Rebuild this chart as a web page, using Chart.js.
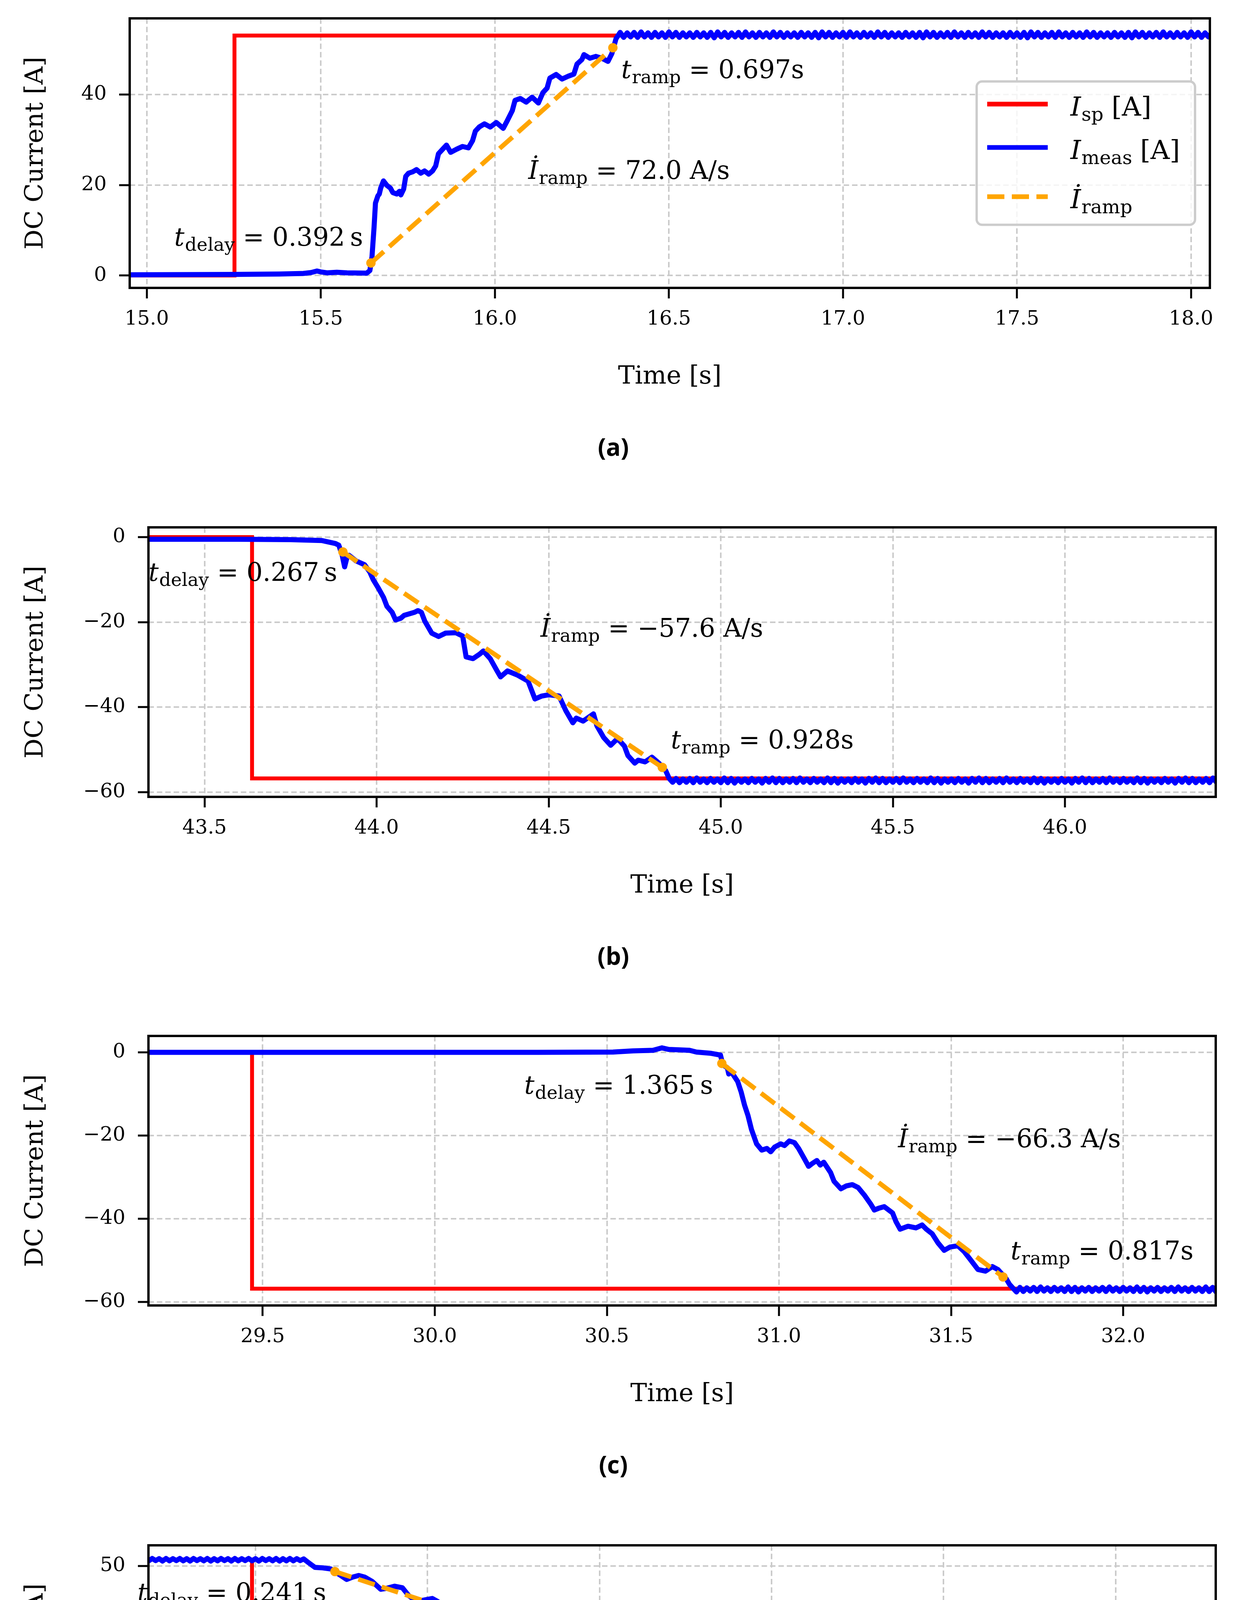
<!DOCTYPE html>
<html><head><meta charset="utf-8">
<script src="https://cdn.jsdelivr.net/npm/chart.js@4.4.1/dist/chart.umd.min.js"></script>
<style>
html,body{margin:0;padding:0;background:#fff;}
#wrap{position:relative;width:3169px;height:5124px;overflow:hidden;}
canvas{position:absolute;left:0;}
</style></head><body><div id="wrap">
<canvas id="ca"></canvas><canvas id="cb"></canvas><canvas id="cc"></canvas><canvas id="cd"></canvas>
</div>
<script>
// ================= DATA =================
// ---- panel (a) ----
const spA = [[14.95,0],[15.252,0],[15.252,53],[18.06,53]];
const measA = [[14.95,0.15],[15.10,0.2],[15.25,0.25],[15.38,0.33],[15.45,0.46],[15.472,0.66],[15.489,1.0],[15.50,0.8],[15.518,0.6],[15.546,0.73],[15.575,0.6],[15.632,0.53],[15.641,1.1],[15.647,4.1],[15.653,10.7],[15.657,16],[15.664,17.6],[15.668,18],[15.672,19.3],[15.68,20.9],[15.69,19.9],[15.70,19.3],[15.707,18.3],[15.718,18],[15.726,18.6],[15.73,17.8],[15.738,19.1],[15.744,21.9],[15.752,22.6],[15.764,22.9],[15.775,23.4],[15.787,22.6],[15.798,23.1],[15.81,22.4],[15.821,23.1],[15.83,24.2],[15.838,26.9],[15.85,27.9],[15.861,28.8],[15.873,27.2],[15.89,27.9],[15.907,28.5],[15.924,28.2],[15.936,29.8],[15.944,31.9],[15.955,32.8],[15.97,33.5],[15.987,32.8],[16.004,33.8],[16.024,32.5],[16.035,34.1],[16.05,36.4],[16.058,38.7],[16.073,39.1],[16.09,38.3],[16.107,39.4],[16.125,38.1],[16.138,40.4],[16.15,41.4],[16.158,43.6],[16.176,44.4],[16.193,43.4],[16.21,44.0],[16.227,44.5],[16.236,46.7],[16.25,47.7],[16.256,48.8],[16.273,48.0],[16.29,48.4],[16.307,48.0],[16.325,47.3],[16.336,49.0],[16.348,52.3],
[16.36,53.7],[16.37,52.6],[16.38,53.6],[16.39,52.7],[16.40,53.7],[16.41,52.6],[16.42,53.8],[16.43,52.7],[16.44,53.6],[16.45,52.6],
[16.46,53.7],[16.47,52.7],[16.48,53.6],[16.49,52.6],[16.50,53.8],[16.51,52.7],[16.52,53.7],[16.53,52.6],[16.54,53.6],[16.55,52.7],
[16.56,53.6],[16.57,52.6],[16.58,53.7],[16.59,52.7],[16.60,53.6],[16.61,52.6],[16.62,53.7],[16.63,52.5],[16.64,53.8],[16.65,52.7],
[16.66,53.7],[16.67,52.6],[16.68,53.6],[16.69,52.7],[16.70,53.7],[16.71,52.6],[16.72,53.8],[16.73,52.7],[16.74,53.6],[16.75,52.6],
[16.76,53.7],[16.77,52.7],[16.78,53.6],[16.79,52.6],[16.80,53.8],[16.81,52.7],[16.82,53.7],[16.83,52.6],[16.84,53.6],[16.85,52.7],
[16.86,53.6],[16.87,52.6],[16.88,53.7],[16.89,52.7],[16.90,53.6],[16.91,52.6],[16.92,53.7],[16.93,52.5],[16.94,53.8],[16.95,52.7],
[16.96,53.7],[16.97,52.6],[16.98,53.6],[16.99,52.7],[17.00,53.7],[17.01,52.6],[17.02,53.8],[17.03,52.7],[17.04,53.6],[17.05,52.6],
[17.06,53.7],[17.07,52.7],[17.08,53.6],[17.09,52.6],[17.10,53.8],[17.11,52.7],[17.12,53.7],[17.13,52.6],[17.14,53.6],[17.15,52.7],
[17.16,53.6],[17.17,52.6],[17.18,53.7],[17.19,52.7],[17.20,53.6],[17.21,52.6],[17.22,53.7],[17.23,52.5],[17.24,53.8],[17.25,52.7],
[17.26,53.7],[17.27,52.6],[17.28,53.6],[17.29,52.7],[17.30,53.7],[17.31,52.6],[17.32,53.8],[17.33,52.7],[17.34,53.6],[17.35,52.6],
[17.36,53.7],[17.37,52.7],[17.38,53.6],[17.39,52.6],[17.40,53.8],[17.41,52.7],[17.42,53.7],[17.43,52.6],[17.44,53.6],[17.45,52.7],
[17.46,53.6],[17.47,52.6],[17.48,53.7],[17.49,52.7],[17.50,53.6],[17.51,52.6],[17.52,53.7],[17.53,52.5],[17.54,53.8],[17.55,52.7],
[17.56,53.7],[17.57,52.6],[17.58,53.6],[17.59,52.7],[17.60,53.7],[17.61,52.6],[17.62,53.8],[17.63,52.7],[17.64,53.6],[17.65,52.6],
[17.66,53.7],[17.67,52.7],[17.68,53.6],[17.69,52.6],[17.70,53.8],[17.71,52.7],[17.72,53.7],[17.73,52.6],[17.74,53.6],[17.75,52.7],
[17.76,53.6],[17.77,52.6],[17.78,53.7],[17.79,52.7],[17.80,53.6],[17.81,52.6],[17.82,53.7],[17.83,52.5],[17.84,53.8],[17.85,52.7],
[17.86,53.7],[17.87,52.6],[17.88,53.6],[17.89,52.7],[17.90,53.7],[17.91,52.6],[17.92,53.8],[17.93,52.7],[17.94,53.6],[17.95,52.6],
[17.96,53.7],[17.97,52.7],[17.98,53.6],[17.99,52.6],[18.00,53.8],[18.01,52.7],[18.02,53.7],[18.03,52.6],[18.04,53.6],[18.05,52.7],
[18.06,53.6]];
const rampA = [[15.644,2.77],[16.339,50.3]];
const xTicksA = [15.0,15.5,16.0,16.5,17.0,17.5,18.0];
const xLabelsA = ['15.0','15.5','16.0','16.5','17.0','17.5','18.0'];
const yTicksA = [0,20,40];
const yLabelsA = ['0','20','40'];
const xRangeA = [14.951,18.054], yRangeA = [-2.73,56.8];
const annA = [[15.079,6.6,'t','delay','0.392\u2009s'],[16.096,21.3,'\u0130','ramp','72.0 A/s'],[16.363,43.6,'t','ramp','0.697s']];

// ---- panel (b) ----
const spB = [[43.33,0],[43.638,0],[43.638,-56.8],[46.46,-56.8]];
const measB = [[43.33,-0.5],[43.60,-0.5],[43.75,-0.6],[43.84,-0.8],[43.88,-1.5],[43.89,-1.9],[43.90,-4.3],[43.907,-7.0],[43.914,-4.7],[43.92,-4.3],[43.94,-5.6],[43.965,-6.5],[43.98,-8.2],[43.99,-10],[44.005,-12],[44.02,-14.2],[44.03,-16.3],[44.045,-17.7],[44.055,-19.5],[44.07,-19.1],[44.08,-18.4],[44.11,-17.7],[44.12,-17.3],[44.13,-17.7],[44.14,-19.8],[44.16,-22.6],[44.18,-23.4],[44.20,-22.6],[44.23,-22.5],[44.25,-23.3],[44.26,-28.2],[44.28,-28.6],[44.30,-27.5],[44.31,-26.8],[44.33,-28.6],[44.35,-31.5],[44.36,-32.9],[44.38,-31.5],[44.41,-32.5],[44.44,-33.9],[44.46,-38.1],[44.48,-37.4],[44.50,-37.1],[44.53,-37.4],[44.55,-40.9],[44.57,-43.7],[44.58,-42.6],[44.60,-43.3],[44.63,-41.6],[44.64,-44.4],[44.66,-47.2],[44.68,-49.0],[44.70,-47.4],[44.72,-49.2],[44.73,-51.4],[44.75,-53.2],[44.76,-52.5],[44.78,-52.9],[44.80,-51.8],[44.82,-53.2],[44.84,-55.0],[44.85,-56.8],[44.86,-57.7],
[44.87,-56.8],[44.88,-57.8],[44.89,-56.9],[44.90,-57.7],[44.91,-56.8],[44.92,-57.8],[44.93,-56.7],[44.94,-57.7],[44.95,-56.9],[44.96,-57.8],
[44.97,-56.8],[44.98,-57.7],[44.99,-56.9],[45.00,-57.8],[45.01,-56.7],[45.02,-57.8],[45.03,-56.8],[45.04,-57.9],[45.05,-56.9],[45.06,-57.7],
[45.07,-56.9],[45.08,-57.8],[45.09,-56.8],[45.10,-57.7],[45.11,-56.9],[45.12,-57.9],[45.13,-56.8],[45.14,-57.7],[45.15,-56.7],[45.16,-57.8],
[45.17,-56.8],[45.18,-57.8],[45.19,-56.9],[45.20,-57.7],[45.21,-56.8],[45.22,-57.8],[45.23,-56.7],[45.24,-57.7],[45.25,-56.9],[45.26,-57.8],
[45.27,-56.8],[45.28,-57.7],[45.29,-56.9],[45.30,-57.8],[45.31,-56.7],[45.32,-57.8],[45.33,-56.8],[45.34,-57.9],[45.35,-56.9],[45.36,-57.7],
[45.37,-56.9],[45.38,-57.8],[45.39,-56.8],[45.40,-57.7],[45.41,-56.9],[45.42,-57.9],[45.43,-56.8],[45.44,-57.7],[45.45,-56.7],[45.46,-57.8],
[45.47,-56.8],[45.48,-57.8],[45.49,-56.9],[45.50,-57.7],[45.51,-56.8],[45.52,-57.8],[45.53,-56.7],[45.54,-57.7],[45.55,-56.9],[45.56,-57.8],
[45.57,-56.8],[45.58,-57.7],[45.59,-56.9],[45.60,-57.8],[45.61,-56.7],[45.62,-57.8],[45.63,-56.8],[45.64,-57.9],[45.65,-56.9],[45.66,-57.7],
[45.67,-56.9],[45.68,-57.8],[45.69,-56.8],[45.70,-57.7],[45.71,-56.9],[45.72,-57.9],[45.73,-56.8],[45.74,-57.7],[45.75,-56.7],[45.76,-57.8],
[45.77,-56.8],[45.78,-57.8],[45.79,-56.9],[45.80,-57.7],[45.81,-56.8],[45.82,-57.8],[45.83,-56.7],[45.84,-57.7],[45.85,-56.9],[45.86,-57.8],
[45.87,-56.8],[45.88,-57.7],[45.89,-56.9],[45.90,-57.8],[45.91,-56.7],[45.92,-57.8],[45.93,-56.8],[45.94,-57.9],[45.95,-56.9],[45.96,-57.7],
[45.97,-56.9],[45.98,-57.8],[45.99,-56.8],[46.00,-57.7],[46.01,-56.9],[46.02,-57.9],[46.03,-56.8],[46.04,-57.7],[46.05,-56.7],[46.06,-57.8],
[46.07,-56.8],[46.08,-57.8],[46.09,-56.9],[46.10,-57.7],[46.11,-56.8],[46.12,-57.8],[46.13,-56.7],[46.14,-57.7],[46.15,-56.9],[46.16,-57.8],
[46.17,-56.8],[46.18,-57.7],[46.19,-56.9],[46.20,-57.8],[46.21,-56.7],[46.22,-57.8],[46.23,-56.8],[46.24,-57.9],[46.25,-56.9],[46.26,-57.7],
[46.27,-56.9],[46.28,-57.8],[46.29,-56.8],[46.30,-57.7],[46.31,-56.9],[46.32,-57.9],[46.33,-56.8],[46.34,-57.7],[46.35,-56.7],[46.36,-57.8],
[46.37,-56.8],[46.38,-57.8],[46.39,-56.9],[46.40,-57.7],[46.41,-56.8],[46.42,-57.8],[46.43,-56.7],[46.44,-57.7],[46.45,-56.9],[46.46,-57.8]];
const rampB = [[43.902,-3.5],[44.83,-54.2]];
const xTicksB = [43.5,44.0,44.5,45.0,45.5,46.0];
const xLabelsB = ['43.5','44.0','44.5','45.0','45.5','46.0'];
const yTicksB = [0,-20,-40,-60];
const yLabelsB = ['0','\u221220','\u221240','\u221260'];
const xRangeB = [43.337,46.438], yRangeB = [-61.14,2.3];
const annB = [[43.337,-10.3,'t','delay','0.267\u2009s'],[44.476,-23.4,'\u0130','ramp','\u221257.6 A/s'],[44.855,-49.7,'t','ramp','0.928s']];

// ---- panel (c) ----
const spC = [[29.16,0],[29.469,0],[29.469,-56.8],[32.29,-56.8]];
const measC = [[29.16,0],[29.8,0],[30.3,0],[30.518,0.07],[30.576,0.36],[30.634,0.5],[30.66,1.08],[30.68,0.7],[30.74,0.5],[30.76,0.07],[30.80,-0.2],[30.83,-0.65],[30.837,-3.0],[30.85,-3.7],[30.854,-5.2],[30.86,-4.5],[30.88,-7],[30.89,-9.5],[30.90,-12.7],[30.91,-15.2],[30.92,-18.5],[30.935,-22],[30.95,-23.5],[30.965,-23.1],[30.976,-23.9],[30.987,-22.8],[31.005,-22],[31.016,-22.4],[31.03,-21.3],[31.045,-21.7],[31.057,-23.1],[31.074,-25.6],[31.086,-27.4],[31.097,-26.7],[31.11,-26],[31.12,-27.1],[31.13,-26.4],[31.15,-28.9],[31.16,-31],[31.18,-32.8],[31.196,-32.1],[31.213,-31.8],[31.23,-32.5],[31.248,-34.3],[31.266,-36.4],[31.277,-37.9],[31.289,-37.5],[31.306,-37.1],[31.33,-38.6],[31.34,-40.7],[31.352,-42.5],[31.375,-41.8],[31.398,-42.2],[31.416,-41.5],[31.428,-42.5],[31.445,-43.6],[31.462,-45.8],[31.48,-47.6],[31.497,-46.8],[31.52,-46.5],[31.538,-47.9],[31.555,-49.7],[31.578,-52.2],[31.60,-52.6],[31.62,-51.5],[31.636,-52.2],[31.66,-54.4],[31.67,-55.8],[31.69,-57.6],
[31.70,-56.5],[31.71,-57.5],[31.72,-56.6],[31.73,-57.4],[31.74,-56.5],[31.75,-57.5],[31.76,-56.4],[31.77,-57.4],[31.78,-56.6],[31.79,-57.5],
[31.80,-56.5],[31.81,-57.4],[31.82,-56.6],[31.83,-57.5],[31.84,-56.4],[31.85,-57.5],[31.86,-56.5],[31.87,-57.6],[31.88,-56.6],[31.89,-57.4],
[31.90,-56.5],[31.91,-57.5],[31.92,-56.6],[31.93,-57.4],[31.94,-56.5],[31.95,-57.5],[31.96,-56.4],[31.97,-57.4],[31.98,-56.6],[31.99,-57.5],
[32.00,-56.5],[32.01,-57.4],[32.02,-56.6],[32.03,-57.5],[32.04,-56.4],[32.05,-57.5],[32.06,-56.5],[32.07,-57.6],[32.08,-56.6],[32.09,-57.4],
[32.10,-56.5],[32.11,-57.5],[32.12,-56.6],[32.13,-57.4],[32.14,-56.5],[32.15,-57.5],[32.16,-56.4],[32.17,-57.4],[32.18,-56.6],[32.19,-57.5],
[32.20,-56.5],[32.21,-57.4],[32.22,-56.6],[32.23,-57.5],[32.24,-56.4],[32.25,-57.5],[32.26,-56.5],[32.27,-57.6],[32.28,-56.6],[32.29,-57.4]];
const rampC = [[30.834,-2.66],[31.651,-54.0]];
const xTicksC = [29.5,30.0,30.5,31.0,31.5,32.0];
const xLabelsC = ['29.5','30.0','30.5','31.0','31.5','32.0'];
const yTicksC = [0,-20,-40,-60];
const yLabelsC = ['0','\u221220','\u221240','\u221260'];
const xRangeC = [29.168,32.269], yRangeC = [-60.85,3.95];
const annC = [[30.26,-9.96,'t','delay','1.365\u2009s'],[31.346,-22.8,'\u0130','ramp','\u221266.3 A/s'],[31.673,-49.8,'t','ramp','0.817s']];

// ---- panel (d) ----
const spD = [[57.68,53],[57.99,53],[57.99,-57],[60.81,-57]];
const measD = [[57.68,53.4],[57.69,52.4],[57.70,53.5],[57.71,52.5],[57.72,53.4],[57.73,52.3],[57.74,53.5],[57.75,52.4],[57.76,53.4],[57.77,52.5],
[57.78,53.5],[57.79,52.4],[57.80,53.4],[57.81,52.3],[57.82,53.5],[57.83,52.5],[57.84,53.4],[57.85,52.4],[57.86,53.5],[57.87,52.3],
[57.88,53.4],[57.89,52.4],[57.90,53.5],[57.91,52.5],[57.92,53.4],[57.93,52.3],[57.94,53.5],[57.95,52.4],[57.96,53.4],[57.97,52.5],
[57.98,53.5],[57.99,52.4],[58.00,53.4],[58.01,52.3],[58.02,53.5],[58.03,52.5],[58.04,53.4],[58.05,52.4],[58.06,53.5],[58.07,52.3],
[58.08,53.4],[58.09,52.4],[58.10,53.5],[58.11,52.4],[58.12,53.4],[58.13,52.5],[58.14,53.3],
[58.155,51.5],[58.173,49.4],[58.196,49.2],[58.219,48.7],[58.23,47.5],[58.248,45.7],[58.265,43.9],[58.283,45],[58.30,45.7],[58.317,45],[58.34,42.9],[58.364,39.4],[58.38,39.8],[58.404,40.8],[58.427,40.1],[58.445,36.6],[58.468,33.8],[58.49,34.5],[58.514,35.2],[58.53,33.8],[58.55,31.1],[58.572,28.3],[58.596,29.9],[58.62,29.2],[58.642,26.2],[58.665,23.4],[58.688,25.1],[58.717,25.1],[58.74,22.7],[58.764,19.2],[58.787,19.5],[58.816,19.9],[58.833,18.1],[58.856,14.3],[58.88,12.3],[58.90,14.8],[58.926,14.3],[58.949,11.1],[58.97,9.2],[58.995,8.4],[59.018,7.4],[59.04,5.3],[59.062,3.9],[59.108,3.6],[59.155,3.9],[59.19,4.6],[59.247,4.3],[59.305,4.2],[59.34,3.9],[59.35,1.1],[59.386,0.4],[59.427,-0.3],[59.44,-1.7],[59.444,-8.6],[59.456,-12.1],[59.465,-9.3],[59.477,-10.7],[59.49,-15.6],[59.508,-17.7],[59.537,-18.4],[59.56,-19.8],[59.578,-23.3],[59.607,-22.6],[59.636,-23.3],[59.653,-26],[59.676,-28.1],[59.70,-28.1],[59.734,-27.4],[59.757,-30.9],[59.786,-34.4],[59.82,-34.4],[59.85,-36.5],[59.873,-38.6],[59.908,-38.6],[59.936,-40.7],[59.966,-43.5],[60.0,-42.8],[60.024,-43.5],[60.047,-46.2],[60.07,-49],[60.093,-49],[60.122,-48.3],[60.14,-50.4],[60.163,-53.2],[60.186,-54.6],[60.215,-53.9],[60.238,-53.9],[60.255,-56],[60.273,-57.4],
[60.29,-56.7],[60.30,-57.6],[60.31,-56.6],[60.32,-57.5],[60.33,-56.7],[60.34,-57.6],[60.35,-56.6],[60.36,-57.5],[60.37,-56.7],[60.38,-57.6],
[60.39,-56.6],[60.40,-57.5],[60.41,-56.7],[60.42,-57.6],[60.43,-56.6],[60.44,-57.5],[60.45,-56.7],[60.46,-57.6],[60.47,-56.6],[60.48,-57.5],
[60.49,-56.7],[60.50,-57.6],[60.51,-56.6],[60.52,-57.5],[60.53,-56.7],[60.54,-57.6],[60.55,-56.6],[60.56,-57.5],[60.57,-56.7],[60.58,-57.6],
[60.59,-56.6],[60.60,-57.5],[60.61,-56.7],[60.62,-57.6],[60.63,-56.6],[60.64,-57.5],[60.65,-56.7],[60.66,-57.6],[60.67,-56.6],[60.68,-57.5],
[60.69,-56.7],[60.70,-57.6],[60.71,-56.6],[60.72,-57.5],[60.73,-56.7],[60.74,-57.6],[60.75,-56.6],[60.76,-57.5],[60.77,-56.7],[60.78,-57.6],
[60.79,-56.7],[60.80,-57.6],[60.81,-56.6]];
const rampD = [[58.231,47.5],[60.15,-51.5]];
const xTicksD = [58.0,58.5,59.0,59.5,60.0,60.5];
const xLabelsD = ['58.0','58.5','59.0','59.5','60.0','60.5'];
const yTicksD = [50,25,0,-25,-50];
const yLabelsD = ['50','25','0','\u221225','\u221250'];
const xRangeD = [57.689,60.791], yRangeD = [-63.5,59.5];
const annD = [[57.657,33.9,'t','delay','0.241\u2009s'],[59.293,8.1,'\u0130','ramp','\u221254.5 A/s'],[60.172,-42.7,'t','ramp','1.919s']];

const legendItems = [
  {color:'#ff0000', dash:[], sym:'I', sub:'sp', rest:'[A]'},
  {color:'#0000ff', dash:[], sym:'I', sub:'meas', rest:'[A]'},
  {color:'#ffa500', dash:[44,19], sym:'\u0130', sub:'ramp', rest:''}
];

// ================= LAYOUT =================
const W = 3169, XH = 120;
const SERIF = '"DejaVu Serif"';
const panels = [
  {id:'ca', top:0,    h:1300, L:332, R:3097, T:47,   B:737,  sp:spA, meas:measA, ramp:rampA, xt:xTicksA, xl:xLabelsA, yt:yTicksA, yl:yLabelsA, xr:xRangeA, yr:yRangeA, ann:annA, cap:'(a)', legend:true},
  {id:'cb', top:1300, h:1300, L:380, R:3112, T:1350, B:2040, sp:spB, meas:measB, ramp:rampB, xt:xTicksB, xl:xLabelsB, yt:yTicksB, yl:yLabelsB, xr:xRangeB, yr:yRangeB, ann:annB, cap:'(b)'},
  {id:'cc', top:2600, h:1300, L:380, R:3112, T:2652, B:3342, sp:spC, meas:measC, ramp:rampC, xt:xTicksC, xl:xLabelsC, yt:yTicksC, yl:yLabelsC, xr:xRangeC, yr:yRangeC, ann:annC, cap:'(c)'},
  {id:'cd', top:3900, h:1224, L:380, R:3112, T:3956, B:4645, sp:spD, meas:measD, ramp:rampD, xt:xTicksD, xl:xLabelsD, yt:yTicksD, yl:yLabelsD, xr:xRangeD, yr:yRangeD, ann:annD, cap:'(d)'}
];

function pts(arr){ return arr.map(p => ({x:p[0], y:p[1]})); }

function drawMath(ctx, x, y, sym, sub, rest, F, eq){
  ctx.textAlign = 'left'; ctx.textBaseline = 'alphabetic'; ctx.fillStyle = '#000';
  ctx.font = 'italic ' + F + 'px ' + SERIF;
  ctx.fillText(sym, x, y);
  x += ctx.measureText(sym).width + F*0.02;
  const fs = Math.round(F*0.72);
  ctx.font = fs + 'px ' + SERIF;
  ctx.fillText(sub, x, y + F*0.2);
  x += ctx.measureText(sub).width;
  ctx.font = F + 'px ' + SERIF;
  if (eq) {
    x += F*0.32;
    ctx.fillText('=', x, y);
    x += ctx.measureText('=').width + F*0.32;
    ctx.fillText(rest, x, y);
  } else if (rest) {
    x += F*0.3;
    ctx.fillText(rest, x, y);
  }
}

function roundRect(ctx, x, y, w, h, r){
  ctx.beginPath();
  ctx.moveTo(x+r, y); ctx.lineTo(x+w-r, y); ctx.arcTo(x+w, y, x+w, y+r, r);
  ctx.lineTo(x+w, y+h-r); ctx.arcTo(x+w, y+h, x+w-r, y+h, r);
  ctx.lineTo(x+r, y+h); ctx.arcTo(x, y+h, x, y+h-r, r);
  ctx.lineTo(x, y+r); ctx.arcTo(x, y, x+r, y, r);
  ctx.closePath();
}

function decor(p){
  return {
    id: 'decor_' + p.id,
    afterDraw(chart){
      const ctx = chart.ctx, a = chart.chartArea, xs = chart.scales.x, ys = chart.scales.y;
      ctx.save();
      ctx.strokeStyle = '#000'; ctx.lineWidth = 6; ctx.setLineDash([]);
      ctx.strokeRect(a.left, a.top, a.right - a.left, a.bottom - a.top);
      p.ann.forEach(an => drawMath(ctx, xs.getPixelForValue(an[0]), ys.getPixelForValue(an[1]), an[2], an[3], an[4], 65, true));
      ctx.fillStyle = '#000';
      ctx.font = '64px ' + SERIF; ctx.textAlign = 'center'; ctx.textBaseline = 'alphabetic';
      ctx.fillText('Time [s]', (a.left + a.right)/2, a.bottom + 245);
      ctx.save();
      ctx.translate(109, (a.top + a.bottom)/2);
      ctx.rotate(-Math.PI/2);
      ctx.fillText('DC Current [A]', 0, 0);
      ctx.restore();
      ctx.font = 'bold 62px "Open Sans"'; ctx.textAlign = 'center';
      ctx.fillText(p.cap, 1570, a.bottom + 430);
      if (p.legend) {
        const bw = 559, bh = 367;
        const bx = a.right - 38 - bw, by = (a.top + a.bottom)/2 - bh/2;
        roundRect(ctx, bx, by, bw, bh, 14);
        ctx.fillStyle = 'rgba(255,255,255,0.8)'; ctx.fill();
        ctx.strokeStyle = '#cccccc'; ctx.lineWidth = 6; ctx.stroke();
        const rows = [58, 169, 295];
        legendItems.forEach((it, i) => {
          const ry = by + rows[i];
          ctx.save();
          ctx.strokeStyle = it.color; ctx.lineWidth = 12; ctx.setLineDash(it.dash); ctx.lineCap = 'butt';
          ctx.beginPath(); ctx.moveTo(bx + 27, ry); ctx.lineTo(bx + 182, ry); ctx.stroke();
          ctx.restore();
          drawMath(ctx, bx + 240, ry + 29, it.sym, it.sub, it.rest, 68, false);
        });
      }
      ctx.restore();
    }
  };
}

function axisCfg(ticks, labels, range, isX, p){
  return {
    type: 'linear', min: range[0], max: range[1],
    afterBuildTicks: s => { s.ticks = ticks.map(v => ({value: v})); },
    ticks: {
      callback: (v, i) => labels[i],
      font: {family: 'DejaVu Serif', size: 51}, color: '#000',
      padding: isX ? 23 : 32, maxRotation: 0, autoSkip: false
    },
    grid: {color: '#cbcbcb', lineWidth: 4, tickLength: 27, tickWidth: 5, tickColor: '#000', drawTicks: true, drawOnChartArea: true},
    border: {display: false, dash: [14, 7.5]},
    afterFit: s => {
      if (isX) s.height = XH; else s.width = p.L;
      s.paddingLeft = 0; s.paddingRight = 0; s.paddingTop = 0; s.paddingBottom = 0;
    }
  };
}

panels.forEach(p => {
  const cv = document.getElementById(p.id);
  cv.width = W; cv.height = p.h;
  cv.style.width = W + 'px'; cv.style.height = p.h + 'px'; cv.style.top = p.top + 'px';
  const T = p.T - p.top, B = p.B - p.top;
  new Chart(cv, {
    type: 'line',
    data: {datasets: [
      {data: pts(p.sp), borderColor: '#ff0000', borderWidth: 10, pointRadius: 0, order: 3, borderJoinStyle: 'miter'},
      {data: pts(p.meas), borderColor: '#0000ff', borderWidth: 13, pointRadius: 0, order: 2, borderJoinStyle: 'round', borderCapStyle: 'round'},
      {data: pts(p.ramp), borderColor: '#ffa500', borderWidth: 12, borderDash: [44, 19], pointRadius: 12, pointBackgroundColor: '#ffa500', pointBorderWidth: 0, order: 1}
    ]},
    options: {
      responsive: false, animation: false, devicePixelRatio: 1,
      layout: {padding: {left: 0, top: T, right: W - p.R, bottom: p.h - B - XH}},
      plugins: {legend: {display: false}, tooltip: {enabled: false}},
      elements: {line: {tension: 0}},
      events: [],
      scales: {
        x: axisCfg(p.xt, p.xl, p.xr, true, p),
        y: axisCfg(p.yt, p.yl, p.yr, false, p)
      }
    },
    plugins: [decor(p)]
  });
});
</script>
</body></html>
